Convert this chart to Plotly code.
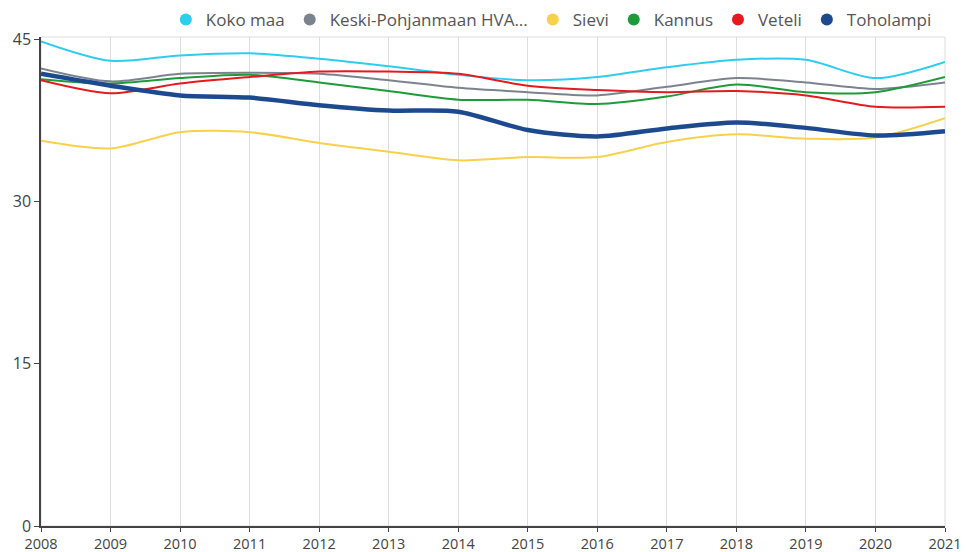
import plotly.graph_objects as go

years = list(range(2008, 2022))

koko_maa = [44.8, 43.0, 43.5, 43.7, 43.2, 42.5, 41.7, 41.2, 41.5, 42.4, 43.1, 43.1, 41.4, 42.9]
keski_pohjanmaa = [42.3, 41.1, 41.8, 41.9, 41.8, 41.2, 40.5, 40.1, 39.8, 40.6, 41.4, 41.0, 40.4, 41.0]
sievi = [35.6, 34.9, 36.4, 36.4, 35.4, 34.6, 33.8, 34.1, 34.1, 35.5, 36.2, 35.8, 35.9, 37.7]
kannus = [41.3, 40.9, 41.4, 41.7, 41.0, 40.2, 39.4, 39.4, 39.0, 39.7, 40.8, 40.1, 40.1, 41.5]
veteli = [41.2, 40.0, 40.9, 41.5, 42.0, 42.0, 41.8, 40.7, 40.3, 40.1, 40.2, 39.8, 38.75, 38.75]
toholampi = [41.8, 40.7, 39.8, 39.6, 38.9, 38.4, 38.3, 36.6, 36.0, 36.75, 37.3, 36.8, 36.1, 36.5]

series = [
    ("Koko maa", koko_maa, "#2ECDF0", 2),
    ("Keski-Pohjanmaan HVA...", keski_pohjanmaa, "#7D838E", 2),
    ("Sievi", sievi, "#F7D14C", 2),
    ("Kannus", kannus, "#1F9A3A", 2),
    ("Veteli", veteli, "#E31B1F", 2),
    ("Toholampi", toholampi, "#1D4A8E", 4.5),
]

fig = go.Figure()

for name, vals, color, width in series:
    fig.add_trace(go.Scatter(
        x=years, y=vals, mode='lines', name=name,
        line=dict(color=color, width=width, shape='spline', smoothing=0.8),
        showlegend=False, hoverinfo='x+y+name'
    ))

# legend entries drawn as circles
for name, vals, color, width in series:
    fig.add_trace(go.Scatter(
        x=[None], y=[None], mode='markers', name=name,
        marker=dict(color=color, size=15, symbol='circle'),
    ))

fig.add_shape(type='rect', xref='paper', yref='paper', x0=0, x1=1, y0=0, y1=1,
              line=dict(color='#DDDDDD', width=1), layer='below')

# page body has an 8px margin, so the figure is a bit smaller than the window
fig.update_layout(
    width=959, height=544,
    margin=dict(l=33, r=22, t=29, b=26, autoexpand=False),
    plot_bgcolor='white',
    paper_bgcolor='white',
    font=dict(family='Open Sans, sans-serif', color='#444444', size=16),
    legend=dict(
        orientation='h', x=0.991, xanchor='right', y=1.035, yanchor='middle',
        font=dict(size=17, color='#555555'),
        itemwidth=30, itemsizing='constant', tracegroupgap=0,
        bgcolor='rgba(0,0,0,0)'
    ),
    xaxis=dict(
        range=[2008, 2021], tickvals=years, ticktext=[str(y) for y in years],
        tickfont=dict(size=14.5),
        showgrid=True, gridcolor='#DDDDDD', gridwidth=1,
        showline=True, linecolor='#444444', linewidth=1.5,
        ticks='outside', ticklen=4, tickcolor='#444444',
        zeroline=False, fixedrange=True
    ),
    yaxis=dict(
        range=[0, 45.2], tickvals=[0, 15, 30, 45],
        showgrid=False,
        showline=True, linecolor='#444444', linewidth=1.5,
        ticks='outside', ticklen=5, tickcolor='#444444',
        zeroline=False, fixedrange=True
    ),
)

fig.write_html("out.html")
